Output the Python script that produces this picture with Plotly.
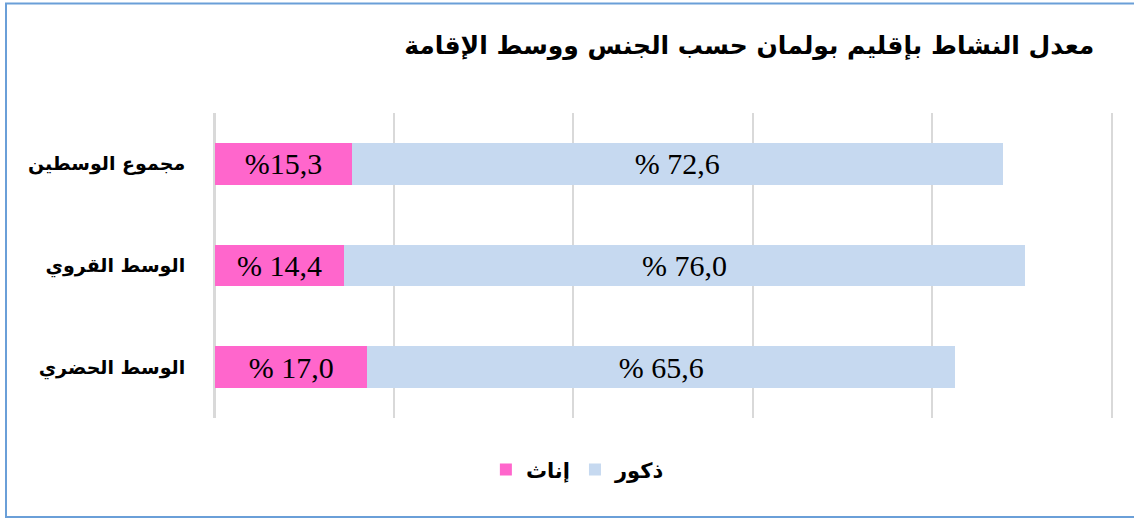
import plotly.graph_objects as go

categories = ["مجموع الوسطين", "الوسط القروي", "الوسط الحضري"]
female_values = [15.3, 14.4, 17.0]
male_values = [72.6, 76.0, 65.6]
female_labels = ["%15,3", "% 14,4", "% 17,0"]
male_labels = ["% 72,6", "% 76,0", "% 65,6"]
title_text = "معدل النشاط بإقليم بولمان حسب الجنس ووسط الإقامة"

text_font = dict(family="Liberation Serif, Times New Roman, serif", size=30, color="#000000")

fig = go.Figure()
fig.add_trace(go.Bar(
    y=categories, x=female_values, orientation="h", name="<b>إناث</b>",
    marker=dict(color="#FF66CC", line=dict(width=0)),
    text=female_labels, textposition="inside", insidetextanchor="middle",
    textangle=0, textfont=text_font, hoverinfo="skip",
))
fig.add_trace(go.Bar(
    y=categories, x=male_values, orientation="h", name="<b>ذكور</b>",
    marker=dict(color="#C6D9F0", line=dict(width=0)),
    text=male_labels, textposition="inside", insidetextanchor="middle",
    textangle=0, textfont=text_font, hoverinfo="skip",
))

fig.update_layout(
    width=1134, height=518,
    barmode="stack", bargap=0.59,
    paper_bgcolor="white", plot_bgcolor="white",
    margin=dict(l=215, r=23, t=113, b=100),
    title=dict(text="<b>" + title_text + "</b>", x=0.965, xanchor="right",
               y=0.913, yanchor="middle",
               font=dict(family="DejaVu Sans", size=25, color="#000000")),
    xaxis=dict(range=[0, 100], tickvals=[0, 20, 40, 60, 80, 100], showticklabels=False,
               showgrid=True, gridcolor="#D9D9D9", gridwidth=2,
               zeroline=True, zerolinecolor="#D9D9D9", zerolinewidth=2,
               showline=False, fixedrange=True),
    yaxis=dict(autorange="reversed", showgrid=False,
               showline=True, mirror=True, linecolor="#D9D9D9", linewidth=2,
               ticks="", ticklabelstandoff=24, fixedrange=True,
               tickfont=dict(family="DejaVu Sans", size=19, color="#000000"),
               tickprefix="<b>", ticksuffix="</b>"),
    legend=dict(orientation="h", x=0.405, xanchor="center", y=-0.17, yanchor="middle",
                traceorder="normal",
                font=dict(family="DejaVu Sans", size=21, color="#000000"),
                itemwidth=30),
    showlegend=True,
)

# chart border
fig.add_shape(type="rect", xref="paper", yref="paper",
              x0=(6 - 215) / 896, x1=(1137 - 215) / 896,
              y0=(418 - 517) / 305, y1=(418 - 3.5) / 305,
              line=dict(color="#6A9FD8", width=2), fillcolor="rgba(0,0,0,0)",
              layer="above")

fig.write_html("out.html", config={"displayModeBar": False},
               post_script="document.body.style.margin='0';document.body.style.overflow='hidden';")
